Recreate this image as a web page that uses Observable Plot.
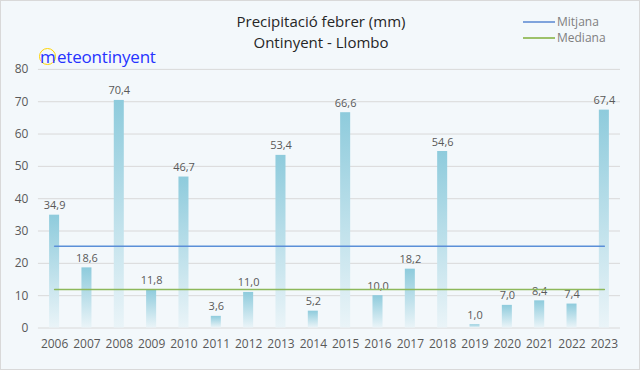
<!DOCTYPE html>
<html>
<head>
<meta charset="utf-8">
<script src="https://cdn.jsdelivr.net/npm/d3@7"></script>
<script src="https://cdn.jsdelivr.net/npm/@observablehq/plot@0.6"></script>
<style>
  html, body { margin: 0; padding: 0; background: #fff; }
  #wrap { position: relative; width: 638px; height: 368px; border: 1px solid #d9d9d9; background: #f3f8fb; overflow: hidden; font-family: "Open Sans", "Noto Sans", sans-serif; }
  #chart { position: absolute; left: -1px; top: -1px; }
  .title { position: absolute; left: 0; width: 640px; text-align: center; font-size: 15px; color: #262626; }
  .legend { position: absolute; left: 522px; font-size: 12px; color: #7f7f7f; display: flex; align-items: center; }
  .legend span.sw { display: inline-block; width: 32px; height: 2px; margin-right: 2px; }
  #logo { position: absolute; left: 38px; top: 44px; font-size: 17px; color: #2633ff; letter-spacing: -0.2px; }
  #logo .m { display: inline-block; border: 1.5px solid #ffd400; border-radius: 50%; width: 17px; height: 17px; line-height: 15px; text-align: center; margin-right: 1px; box-sizing: border-box; }
</style>
</head>
<body>
<div id="wrap">
  <div id="chart"></div>
  <div class="title" style="top:10px">Precipitació febrer (mm)</div>
  <div class="title" style="top:31px">Ontinyent - Llombo</div>
  <div class="legend" style="top:12px"><span class="sw" style="background:#7fa3dc"></span>Mitjana</div>
  <div class="legend" style="top:28px"><span class="sw" style="background:#9dc16a"></span>Mediana</div>
  <div id="logo"><span class="m">m</span>eteontinyent</div>
</div>
<script>
const years = ["2006","2007","2008","2009","2010","2011","2012","2013","2014","2015","2016","2017","2018","2019","2020","2021","2022","2023"];
const precip = [34.9,18.6,70.4,11.8,46.7,3.6,11.0,53.4,5.2,66.6,10.0,18.2,54.6,1.0,7.0,8.4,7.4,67.4];
const mitjana = 25.3;
const mediana = 11.9;
const yTicks = [0,10,20,30,40,50,60,70,80];

const data = years.map((y, i) => ({year: y, value: precip[i]}));
const fmt = v => v.toFixed(1).replace(".", ",");

const chart = Plot.plot({
  width: 640,
  height: 370,
  marginLeft: 38,
  marginRight: 19,
  marginTop: 69,
  marginBottom: 42,
  style: { background: "transparent", fontFamily: "'Open Sans', 'Noto Sans', sans-serif" },
  x: { domain: years, paddingInner: 0.69, paddingOuter: 0.345, round: false, label: null },
  y: { domain: [0, 80], label: null, grid: false },
  marks: [
    () => {
      const svg = d3.create("svg:defs");
      const g = svg.append("linearGradient").attr("id", "barGrad").attr("x1", 0).attr("y1", 0).attr("x2", 0).attr("y2", 1);
      g.append("stop").attr("offset", "0%").attr("stop-color", "#8ecbdc");
      g.append("stop").attr("offset", "100%").attr("stop-color", "#eaf4f8");
      return svg.node();
    },
    Plot.gridY(yTicks, { stroke: "#d9d9d9", strokeOpacity: 1, strokeWidth: 1 }),
    Plot.barY(data, { x: "year", y: "value", fill: "url(#barGrad)" }),
    Plot.text(data, { x: "year", y: "value", text: d => fmt(d.value), dy: -6, lineAnchor: "bottom", fill: "#595959", fontSize: 11 }),
    Plot.lineY([{year: years[0], v: mitjana}, {year: years[years.length-1], v: mitjana}], { x: "year", y: "v", stroke: "#5b8fd8", strokeWidth: 1.5 }),
    Plot.lineY([{year: years[0], v: mediana}, {year: years[years.length-1], v: mediana}], { x: "year", y: "v", stroke: "#8db85a", strokeWidth: 1.5 }),
    Plot.axisX({ tickSize: 0, tickPadding: 12, fontSize: 12, color: "#595959" }),
    Plot.axisY(yTicks, { tickSize: 0, tickPadding: 10, fontSize: 12, color: "#595959" })
  ]
});
document.getElementById("chart").appendChild(chart);
</script>
</body>
</html>
